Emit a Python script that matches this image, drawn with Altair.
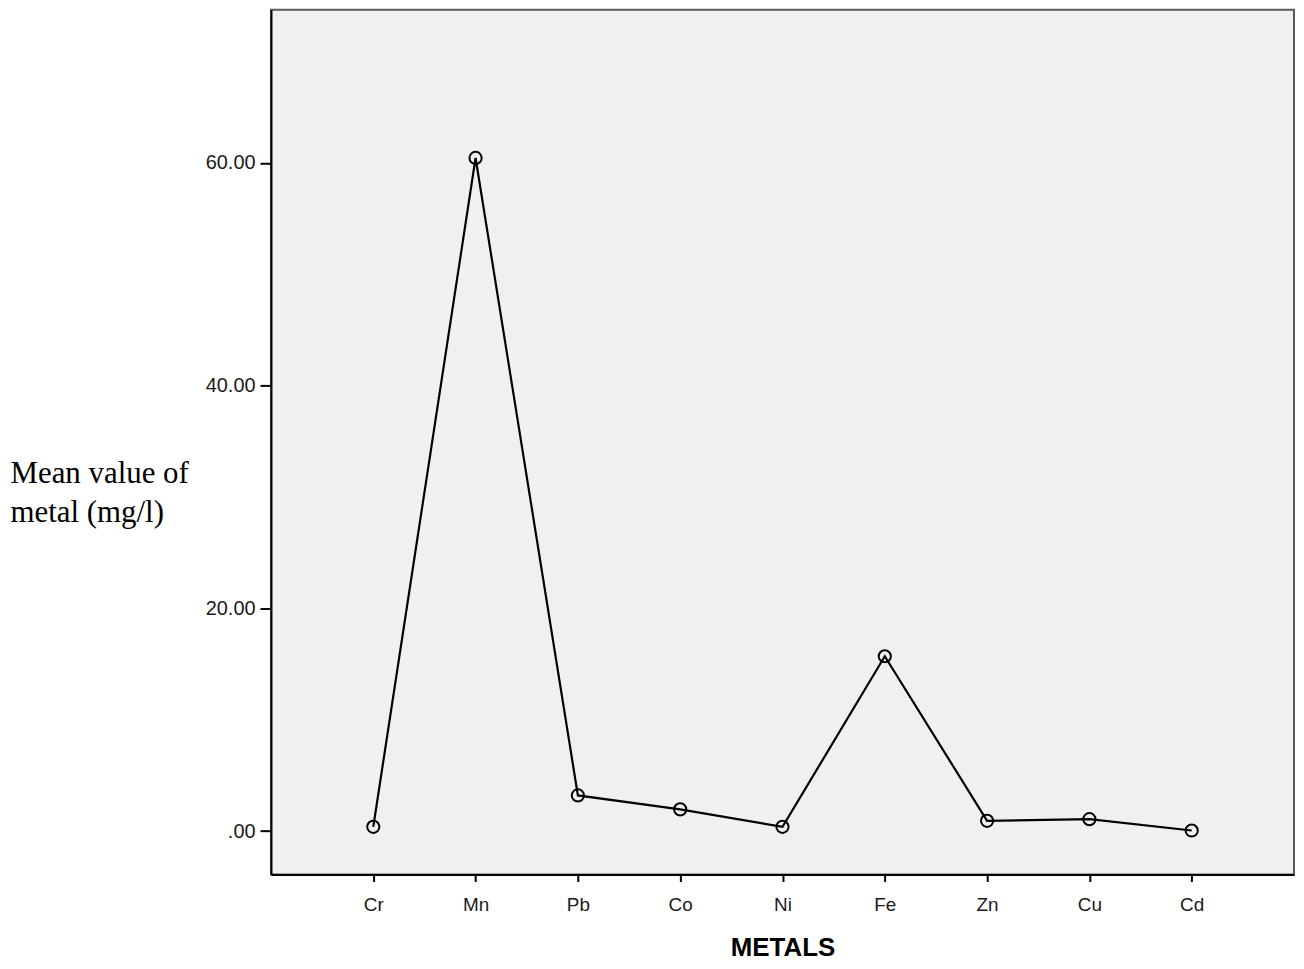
import altair as alt
import pandas as pd

metals = ["Cr", "Mn", "Pb", "Co", "Ni", "Fe", "Zn", "Cu", "Cd"]
mean_values = [0.38, 60.45, 3.2, 1.95, 0.38, 15.7, 0.92, 1.07, 0.05]
y_ticks = [0, 20, 40, 60]

df = pd.DataFrame({"metal": metals, "value": mean_values})

x = alt.X(
    "metal:N",
    sort=metals,
    scale=alt.Scale(type="point", padding=1),
    axis=alt.Axis(
        title="METALS",
        titleFont="Liberation Sans",
        titleFontSize=26,
        titleFontWeight="bold",
        titleColor="#000000",
        titleBaseline="alphabetic",
        titleY=81,
        labelAngle=0,
        labelFont="Liberation Sans",
        labelFontSize=19,
        labelColor="#1a1a1a",
        labelPadding=14,
        tickSize=7,
        tickWidth=2,
        tickColor="#000000",
        domainColor="#000000",
        domainWidth=2,
        grid=False,
    ),
)

y = alt.Y(
    "value:Q",
    scale=alt.Scale(domain=[-3.9, 73.75], nice=False, zero=False),
    axis=alt.Axis(
        values=y_ticks,
        labelExpr="datum.value == 0 ? '.00' : format(datum.value, '.2f')",
        title=["Mean value of", "metal (mg/l)"],
        titleAngle=0,
        titleAlign="left",
        titleBaseline="alphabetic",
        titleX=-262,
        titleY=474,
        titleLineHeight=40,
        titleFont="Liberation Serif",
        titleFontSize=31,
        titleFontWeight="normal",
        titleColor="#000000",
        labelFont="Liberation Sans",
        labelFontSize=20,
        labelColor="#1a1a1a",
        labelPadding=5,
        tickSize=11,
        tickWidth=2,
        tickColor="#000000",
        domainColor="#000000",
        domainWidth=2,
        grid=False,
    ),
)

base = alt.Chart(df)
line = base.mark_line(color="#000000", strokeWidth=2.2).encode(x=x, y=y)
points = base.mark_point(
    shape="circle", filled=False, color="#000000", size=150, strokeWidth=2, opacity=1
).encode(x=x, y=y)

chart = (
    alt.layer(line, points)
    .properties(
        width=1027,
        height=868,
        autosize=alt.AutoSizeParams(type="none"),
        padding={"left": 264, "top": 0, "right": 2, "bottom": 92},
        background="#ffffff",
    )
    .configure_view(fill="#f0f0f0", stroke="#5a5a5a", strokeWidth=2)
)

chart.save("out.html", embed_options={"renderer": "svg", "actions": False})
